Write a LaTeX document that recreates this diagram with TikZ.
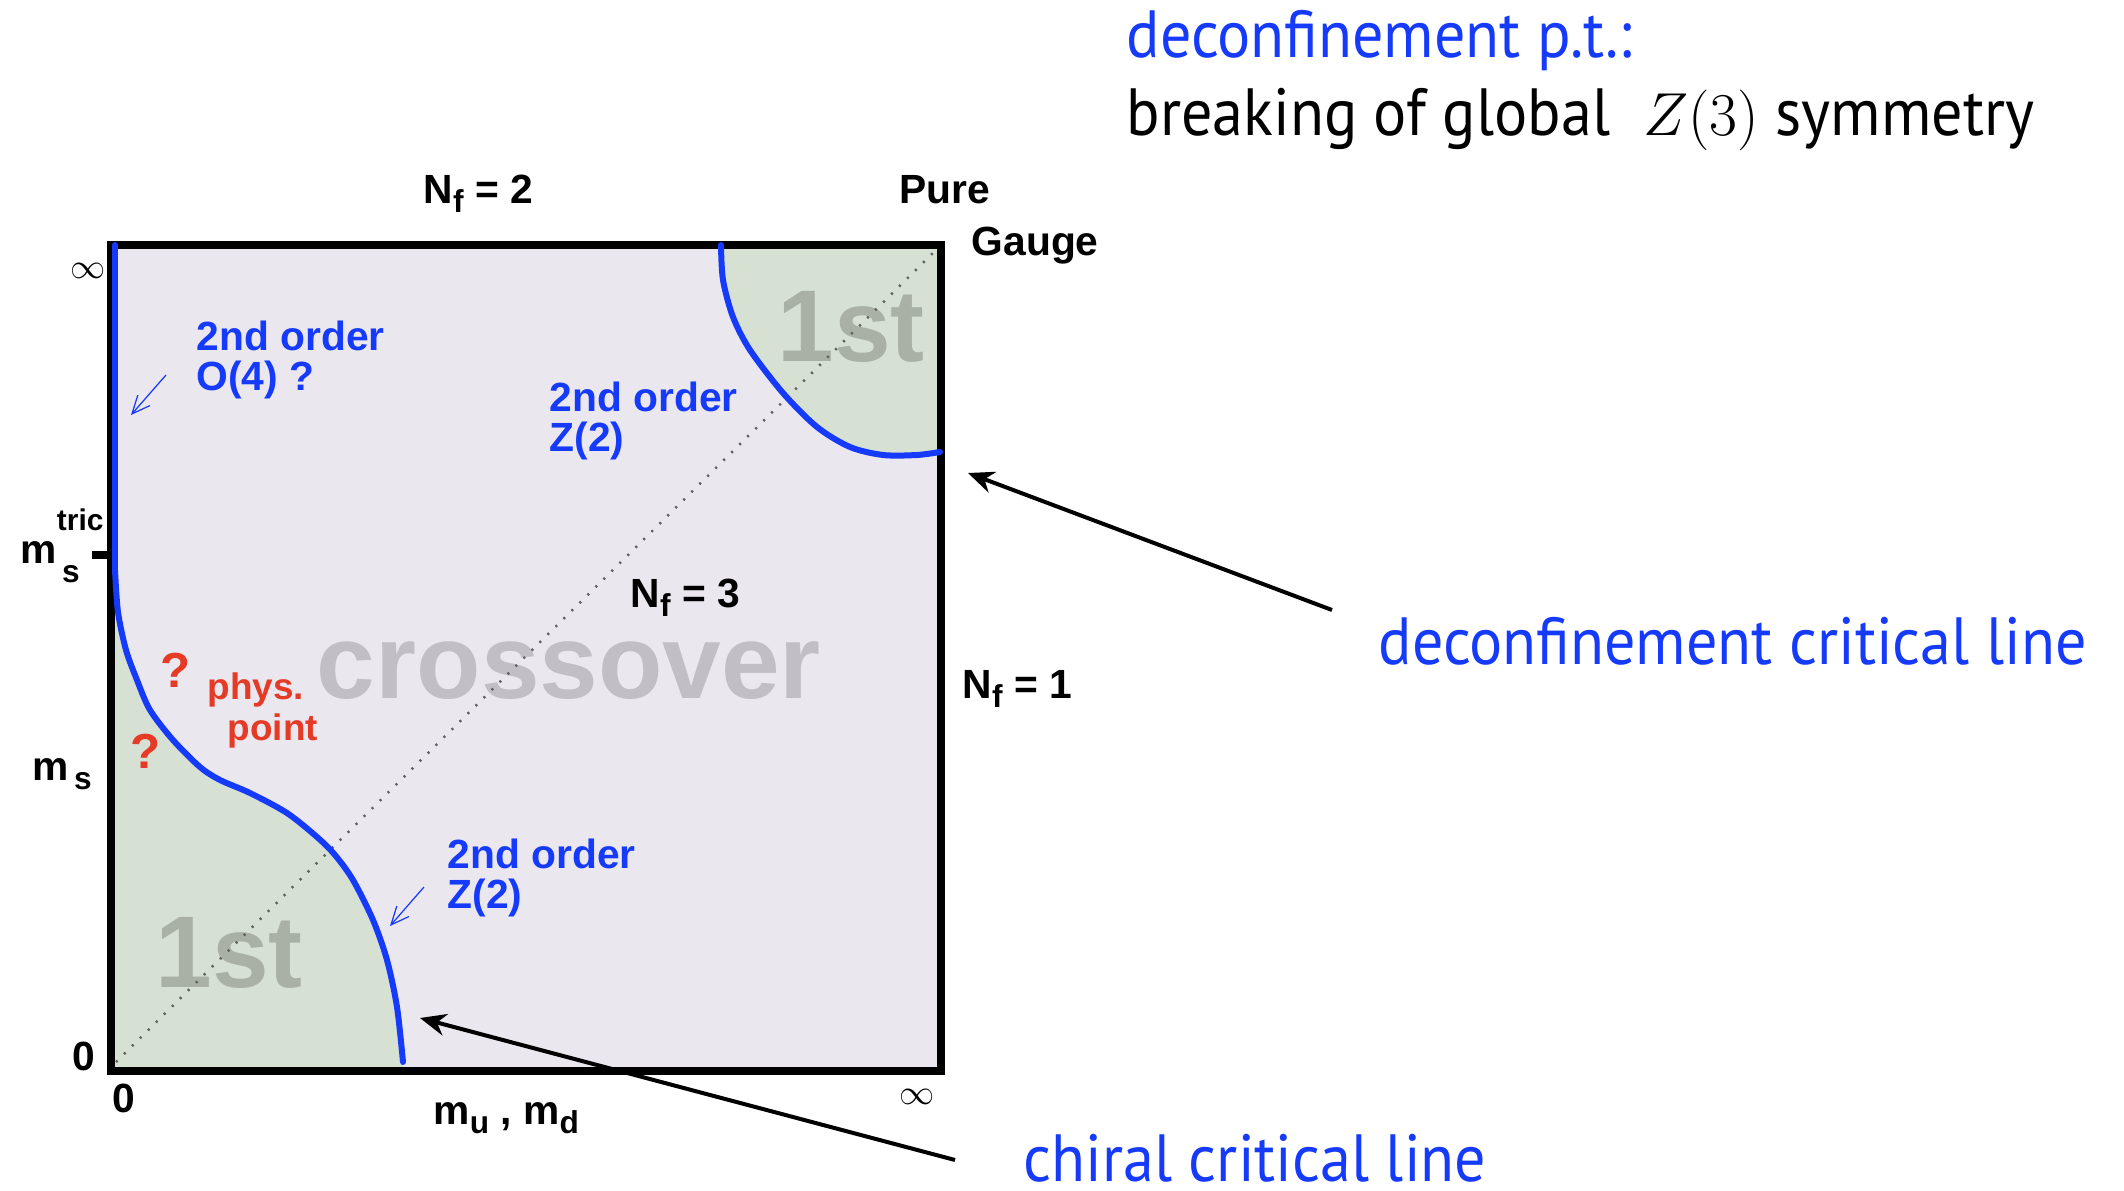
\documentclass[tikz,border=0pt]{standalone}
\usepackage{amsmath,amssymb}
\usepackage{fontspec}
\newfontfamily\helv{Liberation Sans}
\newfontfamily\gill[FakeStretch=0.93]{PT Sans}
\usetikzlibrary{arrows.meta}

\definecolor{boxfill}{RGB}{235,231,239}
\definecolor{firstfill}{RGB}{214,224,211}
\definecolor{firsttxt}{RGB}{168,177,164}
\definecolor{crosstxt}{RGB}{194,190,197}
\definecolor{critblue}{RGB}{22,58,250}
\definecolor{physred}{RGB}{228,58,38}
\definecolor{dotgrey}{RGB}{95,95,95}

\newcommand{\lab}{\helv\bfseries\fontsize{11.6}{11.4}\selectfont}
\newcommand{\lo}[1]{\raisebox{-0.45ex}{\fontsize{9}{9}\selectfont #1}}
\newcommand{\talk}{\gill\fontsize{19}{19}\selectfont}

\tikzset{
  lbl/.style={inner sep=0pt, font=\lab},
  critline/.style={critblue, line width=0.6mm, line cap=round},
  pointer/.style={-{Stealth[length=2.6mm,width=2.2mm]}, line width=0.4mm},
  hint/.style={critblue, line width=0.35pt, -{Straight Barb[length=1.8mm,width=1.6mm]}},
}

\begin{document}
\begin{tikzpicture}[x=0.1mm,y=-0.1mm]
\useasboundingbox (0,0) rectangle (2124,1191);

% 参数（像素坐标）
\pgfmathsetmacro{\L}{111}
\pgfmathsetmacro{\R}{941}
\pgfmathsetmacro{\T}{245}
\pgfmathsetmacro{\B}{1071}

% 背景
\fill[boxfill] (\L,\T) rectangle (\R,\B);

% 一阶区（左下）
\fill[firstfill] plot[smooth] coordinates {(115,570) (118,612) (126,650) (137,680) (150,710) (173,740) (200,767) (220,780) (250,793) (287,813) (317,837) (335,855) (353,880) (373,920) (387,960) (397,1007) (403,1062)}
  -- (403,\B) -- (\L,\B) -- cycle;

% 一阶区（右上）
\fill[firstfill] plot[smooth] coordinates {(721,245) (723,280) (733,317) (750,350) (783,393) (817,427) (850,447) (883,455) (917,455) (940,452)}
  -- (\R,\T) -- cycle;

% 大字
\node[inner sep=0pt, text=crosstxt, font=\helv\bfseries\fontsize{30}{30}\selectfont] (cross) at (569,671) {crossover};
\node[inner sep=0pt, text=firsttxt, font=\helv\bfseries\fontsize{29}{29}\selectfont] (lowfirst) at (229,953) {1st};
\node[inner sep=0pt, text=firsttxt, font=\helv\bfseries\fontsize{29}{29}\selectfont] (upfirst) at (851,327) {1st};

% 对角虚线
\draw[dotgrey, line width=0.7pt, dash pattern=on 0.6pt off 2.6pt] (116,1062) -- (934,252);

% 边框
\draw[line width=0.75mm] (\L,\T) rectangle (\R,\B);
\draw[line width=0.75mm] (92,555) -- (\L,555);

% 临界线
\draw[critline] (115,\T) -- (115,570);
\draw[critline] plot[smooth] coordinates {(115,570) (118,612) (126,650) (137,680) (150,710) (173,740) (200,767) (220,780) (250,793) (287,813) (317,837) (335,855) (353,880) (373,920) (387,960) (397,1007) (403,1062)};
\draw[critline] plot[smooth] coordinates {(721,245) (723,280) (733,317) (750,350) (783,393) (817,427) (850,447) (883,455) (917,455) (940,452)};

% 坐标轴标注
\node[lbl, anchor=base west] (nf2) at (423,203) {N\lo{f} = 2};
\node[lbl, anchor=base west] (pure) at (899,203) {Pure};
\node[lbl, anchor=base west] (gauge) at (971,255) {Gauge};
\node[lbl, anchor=base west] (nf3) at (630,607) {N\lo{f} = 3};
\node[lbl, anchor=base west] (nf1) at (962,698) {N\lo{f} = 1};
\node[inner sep=0pt] (inftop) at (88,271) {$\infty$};
\node[inner sep=0pt] (infright) at (917,1097) {$\infty$};
\node[lbl, anchor=base west] (zeroleft) at (72,1070) {0};
\node[lbl, anchor=base west] (zerobot) at (112,1112) {0};
\node[lbl, anchor=base west] (mstric) at (20,563) {m\rlap{\raisebox{1.5ex}{\fontsize{8.5}{8.5}\selectfont tric}}\hspace{1.5pt}\raisebox{-0.9ex}{\fontsize{9}{9}\selectfont s}};
\node[lbl, anchor=base west] (ms) at (32,780) {m\hspace{1.5pt}\lo{s}};
\node[lbl, anchor=base west] (mud) at (433,1124) {m\lo{u} , m\lo{d}};

% 二阶线说明
\node[lbl, text=critblue, anchor=north west, align=left] (o4) at (196,320) {2nd order\\O(4) ?};
\node[lbl, text=critblue, anchor=north west, align=left] (z2up) at (549,381) {2nd order\\Z(2)};
\node[lbl, text=critblue, anchor=north west, align=left] (z2low) at (447,838) {2nd order\\Z(2)};
\coordinate (o4tail) at (166,375);
\coordinate (o4tip) at (131,415);
\coordinate (z2tail) at (424,887);
\coordinate (z2tip) at (390,926);
\draw[hint] (o4tail) -- (o4tip);
\draw[hint] (z2tail) -- (z2tip);

% 物理点
\node[inner sep=0pt, anchor=base west, text=physred, font=\helv\bfseries\fontsize{14}{14}\selectfont] (qup) at (160,687) {?};
\node[inner sep=0pt, anchor=base west, text=physred, font=\helv\bfseries\fontsize{14}{14}\selectfont] (qlow) at (130,768) {?};
\node[inner sep=0pt, anchor=base west, text=physred, font=\helv\bfseries\fontsize{10.5}{10.5}\selectfont] (phys) at (207,699) {phys.};
\node[inner sep=0pt, anchor=base west, text=physred, font=\helv\bfseries\fontsize{10.5}{10.5}\selectfont] (point) at (227,740) {point};

% 右侧文字
\node[inner sep=0pt, anchor=base west, text=critblue, font=\talk] (dpt) at (1126,57) {deconfinement p.t.:};
\node[inner sep=0pt, anchor=base west, font=\talk] (z3) at (1126,135) {breaking of global \ $Z(3)$ symmetry};
\node[inner sep=0pt, anchor=base west, text=critblue, font=\talk] (dline) at (1378,664) {deconfinement critical line};
\node[inner sep=0pt, anchor=base west, text=critblue, font=\talk] (cline) at (1023,1181) {chiral critical line};

% 箭头
\coordinate (dtail) at (1332,610);
\coordinate (dtip) at (968,473);
\coordinate (ctail) at (955,1160);
\coordinate (ctip) at (420,1018);
\draw[pointer] (dtail) -- (dtip);
\draw[pointer] (ctail) -- (ctip);

\end{tikzpicture}
\end{document}
